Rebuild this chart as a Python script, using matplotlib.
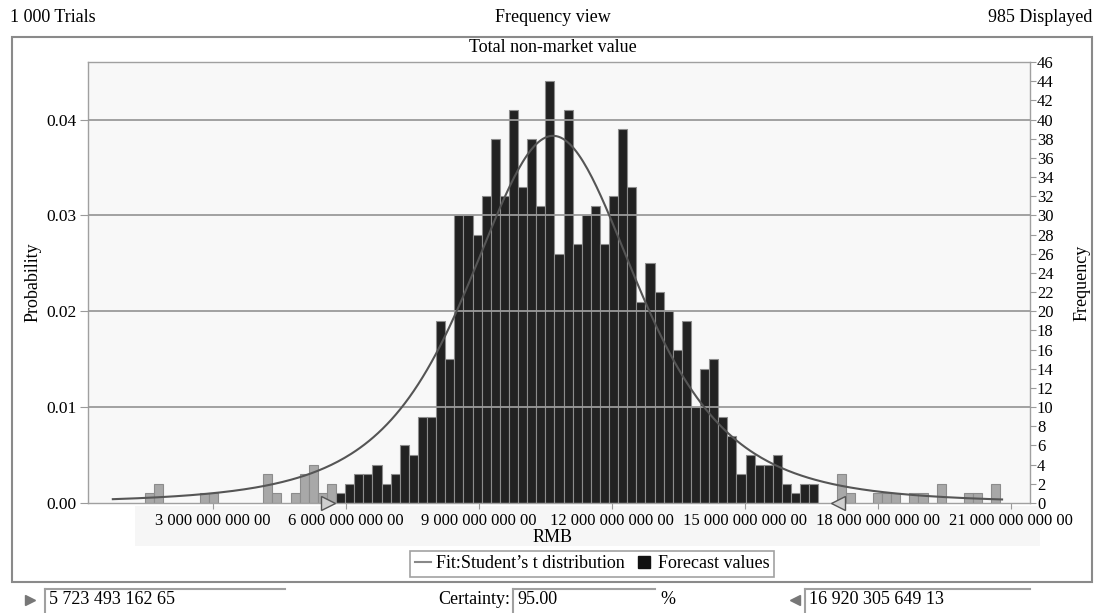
import numpy as np
import matplotlib
matplotlib.use('Agg')
import matplotlib.pyplot as plt
from matplotlib.lines import Line2D
from matplotlib.patches import Rectangle
import matplotlib.transforms as mtrans

plt.rcParams['font.family'] = ['Liberation Serif', 'DejaVu Serif']

W, H = 1097, 613

# histogram bins (values in RMB), counts per bin
bin_start = 1.464e9
bin_width = 0.2053e9
counts = [1, 2, 0, 0, 0, 0, 1, 1, 0, 0, 0, 0, 0, 3, 1, 0, 1, 3, 4, 1, 2, 1,
          2, 3, 3, 4, 2, 3, 6, 5, 9, 9, 19, 15, 30, 30, 28,
          32, 38, 32, 41, 33, 38, 31, 44, 26, 41,
          27, 30, 31, 27, 32, 39, 33, 21, 25, 22,
          20, 16, 19, 10, 14, 15, 9, 7, 3, 5,
          4, 4, 5, 2, 1, 2, 2, 0, 0,
          3, 1, 0, 0, 1, 1, 1, 0, 1, 1, 0, 2, 0, 0, 1, 1, 0, 2]
trials = 1000
displayed = 985

# certainty range
lo_val = 5723493162.65
hi_val = 16920305649.13
certainty = 95.00

# fitted Student's t
fit_loc = 10.67e9
fit_scale = 2.015e9
fit_df = 3.3
fit_peak = 0.0383
fit_min, fit_max = 0.74e9, 20.8e9

xticks = [3e9, 6e9, 9e9, 12e9, 15e9, 18e9, 21e9]
xtick_labels = ['3 000 000 000 00', '6 000 000 000 00', '9 000 000 000 00',
                '12 000 000 000 00', '15 000 000 000 00', '18 000 000 000 00',
                '21 000 000 000 00']


def fx(px):
    return px / W


def fy(py):
    return 1 - py / H


fig = plt.figure(figsize=(W / 100, H / 100), dpi=100)
fig.patch.set_facecolor('white')

# outer frame
fig.add_artist(Rectangle((fx(12), fy(582)), fx(1092) - fx(12), fy(37) - fy(582),
                         transform=fig.transFigure, fill=False, edgecolor='#8a8a8a', lw=1.5))
# light band below axis
fig.add_artist(Rectangle((fx(135), fy(546)), fx(1040) - fx(135), fy(506) - fy(546),
                         transform=fig.transFigure, facecolor='#f6f6f6', edgecolor='none', zorder=0))

ax = fig.add_axes([fx(88), fy(503), fx(1030) - fx(88), fy(62) - fy(503)])
ax.set_facecolor('#f8f8f8')
ax.set_xlim(0.18e9, 21.43e9)
ax.set_ylim(0, 0.046)

counts = np.array(counts)
left_edges = bin_start + bin_width * np.arange(len(counts))
centers = left_edges + bin_width / 2
inside = (centers >= lo_val) & (centers <= hi_val)
colors = np.where(inside, '#222222', '#a8a8a8')
mask = counts > 0
ax.bar(left_edges[mask], counts[mask] / trials, width=bin_width, align='edge',
       color=colors[mask], edgecolor='#8c8c8c', linewidth=0.8, zorder=2)

for g in [0.01, 0.02, 0.03, 0.04]:
    ax.axhline(g, color='#9a9a9a', lw=1.3, zorder=3)

xs = np.linspace(fit_min, fit_max, 400)
z = (xs - fit_loc) / fit_scale
ys = fit_peak * (1 + z ** 2 / fit_df) ** (-(fit_df + 1) / 2)
ax.plot(xs, ys, color='#555555', lw=1.5, zorder=4)

for sp in ax.spines.values():
    sp.set_color('#a0a0a0')
    sp.set_linewidth(1.0)

ax.set_yticks([0, 0.01, 0.02, 0.03, 0.04])
ax.set_yticklabels(['0.00', '0.01', '0.02', '0.03', '0.04'])
ax.tick_params(axis='y', length=6, color='#9a9a9a', labelsize=12.5, pad=2)
ax.set_xticks(xticks)
ax.set_xticklabels(xtick_labels)
ax.tick_params(axis='x', length=4, color='#9a9a9a', labelsize=12, pad=3)
ax.set_ylabel('Probability', fontsize=13, labelpad=4)

ax2 = ax.twinx()
ax2.set_ylim(0, 46)
ax2.set_yticks(range(0, 47, 2))
ax2.tick_params(axis='y', length=4, color='#9a9a9a', labelsize=12, pad=1)
for sp in ax2.spines.values():
    sp.set_visible(False)
ax2.set_ylabel('Frequency', fontsize=13, rotation=90, labelpad=14)

# certainty triangles
off_l = mtrans.offset_copy(ax.transData, fig=fig, x=-6, y=0, units='dots')
off_r = mtrans.offset_copy(ax.transData, fig=fig, x=8, y=0, units='dots')
ax.plot([lo_val], [0], marker='>', ms=10, mfc='#cfcfcf', mec='#555555', mew=1,
        transform=off_l, clip_on=False, zorder=6)
ax.plot([hi_val], [0], marker='<', ms=10, mfc='#cfcfcf', mec='#555555', mew=1,
        transform=off_r, clip_on=False, zorder=6)

# texts
fig.text(fx(10), fy(18), '{:,} Trials'.format(trials).replace(',', ' '), fontsize=13,
         ha='left', va='center')
fig.text(fx(553), fy(18), 'Frequency view', fontsize=13, ha='center', va='center')
fig.text(fx(1092), fy(18), '{} Displayed'.format(displayed), fontsize=13, ha='right', va='center')
fig.text(fx(553), fy(47), 'Total non-market value', fontsize=13, ha='center', va='center')
fig.text(fx(553), fy(538), 'RMB', fontsize=13, ha='center', va='center')

handles = [Line2D([0], [0], color='#888888', lw=1.5),
           Line2D([0], [0], color='#111111', marker='s', ls='none', ms=9)]
leg = fig.legend(handles, ['Fit:Student\u2019s t distribution', 'Forecast values'],
                 loc='center', bbox_to_anchor=(fx(592), fy(564)), ncol=2, fontsize=13,
                 frameon=True, fancybox=False, handlelength=0.9, handletextpad=0.3,
                 columnspacing=0.6, borderpad=0.25, borderaxespad=0)
leg.get_frame().set_edgecolor('#8a8a8a')
leg.get_frame().set_linewidth(1.2)


def field(x0, x1, text):
    fig.add_artist(Line2D([fx(x0), fx(x1)], [fy(589), fy(589)], transform=fig.transFigure,
                          color='#a0a0a0', lw=1.5))
    fig.add_artist(Line2D([fx(x0), fx(x0)], [fy(589), fy(612)], transform=fig.transFigure,
                          color='#a0a0a0', lw=1.5))
    fig.text(fx(x0 + 4), fy(600), text, fontsize=13, ha='left', va='center')


fig.add_artist(Line2D([fx(30)], [fy(600)], marker='>', ms=7, color='#777777',
                      transform=fig.transFigure))
field(45, 285, '5 723 493 162 65')
fig.text(fx(510), fy(600), 'Certainty:', fontsize=13, ha='right', va='center')
field(513, 655, '{:.2f}'.format(certainty))
fig.text(fx(668), fy(600), '%', fontsize=13, ha='center', va='center')
fig.add_artist(Line2D([fx(795)], [fy(600)], marker='<', ms=7, color='#777777',
                      transform=fig.transFigure))
field(805, 1030, '16 920 305 649 13')

fig.savefig('out.png', dpi=100)
